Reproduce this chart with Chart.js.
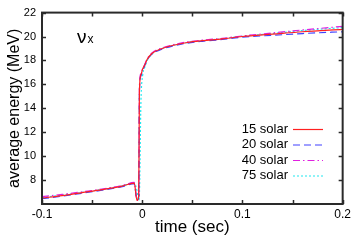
<!DOCTYPE html>
<html><head><meta charset="utf-8">
<script src="https://cdn.jsdelivr.net/npm/chart.js@4/dist/chart.umd.min.js"></script>
<style>html,body{margin:0;padding:0;background:#fff;}canvas{display:block;}</style>
</head><body>
<canvas id="c" width="354" height="240"></canvas>
<script>
const time = [-0.1, -0.08, -0.06, -0.04, -0.02, -0.008, -0.0052, -0.0035, -0.0028, -0.0013, 0.0005, 0.0024, 0.005, 0.01, 0.02, 0.03, 0.045, 0.06, 0.08, 0.1, 0.13, 0.16, 0.2];
const solar15 = [6.5, 6.7, 6.95, 7.2, 7.5, 7.75, 6.3, 6.6, 15.5, 16.8, 17.3, 17.6, 18.1, 18.6, 19.0, 19.25, 19.5, 19.65, 19.8, 20.0, 20.2, 20.4, 20.6];
const solar20 = [6.45, 6.65, 6.9, 7.15, 7.45, 7.7, 6.35, 6.6, 15.3, 16.7, 17.2, 17.55, 18.05, 18.55, 18.95, 19.2, 19.45, 19.6, 19.75, 19.95, 20.1, 20.25, 20.4];
const solar40 = [6.62, 6.8, 7.02, 7.25, 7.55, 7.8, 6.3, 6.7, 15.8, 16.9, 17.35, 17.65, 18.15, 18.65, 19.05, 19.3, 19.55, 19.7, 19.85, 20.05, 20.3, 20.55, 20.85];
const solar75 = [6.55, 6.75, 6.97, 7.22, 7.52, 7.75, 7.1, 6.3, 6.8, 14.5, 16.8, 17.4, 18.0, 18.55, 19.0, 19.25, 19.5, 19.65, 19.82, 20.02, 20.25, 20.5, 20.75];
const seriesLabels = ['15 solar', '20 solar', '40 solar', '75 solar'];
const xTicks = [-0.1, 0, 0.1, 0.2];
const xMinor = [-0.05, 0.05, 0.15];
const yTicks = [8, 10, 12, 14, 16, 18, 20, 22];

const colors = ['#ff2020', '#4040ff', '#e020e0', '#20e8f0'];
const dashes = [[], [7, 4], [7, 3, 1.5, 3], [2, 2]];
const seriesVals = [solar15, solar20, solar40, solar75];

const datasets = seriesVals.map((vals, k) => ({
  label: seriesLabels[k],
  data: time.map((t, i) => ({x: t, y: vals[i]})),
  borderColor: colors[k],
  borderDash: dashes[k],
  borderWidth: 1.2,
  pointRadius: 0,
  fill: false,
  tension: 0,
  cubicInterpolationMode: 'monotone'
}));

const FONT = 'Liberation Sans, Arial, sans-serif';

const framePlugin = {
  id: 'frame',
  afterDatasetsDraw(chart) {
    const {ctx, chartArea: a, scales: {x, y}} = chart;
    ctx.save();
    ctx.strokeStyle = '#2a2a2a';
    ctx.lineWidth = 1.5;
    const tl = 4;
    ctx.beginPath();
    xTicks.concat(xMinor).forEach(v => {
      const px = Math.round(x.getPixelForValue(v)) + 0.5;
      ctx.moveTo(px, a.bottom); ctx.lineTo(px, a.bottom - tl);
      ctx.moveTo(px, a.top); ctx.lineTo(px, a.top + tl);
    });
    yTicks.forEach(v => {
      const py = Math.round(y.getPixelForValue(v)) + 0.5;
      ctx.moveTo(a.left, py); ctx.lineTo(a.left + tl, py);
      ctx.moveTo(a.right, py); ctx.lineTo(a.right - tl, py);
    });
    ctx.stroke();
    ctx.lineWidth = 2;
    ctx.strokeRect(a.left, a.top, a.right - a.left, a.bottom - a.top);
    ctx.font = '13px ' + FONT;
    ctx.textAlign = 'right';
    ctx.textBaseline = 'middle';
    const rows = [129, 144.5, 160, 175.5];
    chart.data.datasets.forEach((ds, k) => {
      const yy = rows[k];
      ctx.fillStyle = '#000';
      ctx.fillText(ds.label, 288, yy);
      ctx.strokeStyle = ds.borderColor;
      ctx.lineWidth = 1.2;
      ctx.setLineDash(ds.borderDash);
      ctx.beginPath();
      ctx.moveTo(293, yy + 0.5); ctx.lineTo(323, yy + 0.5);
      ctx.stroke();
      ctx.setLineDash([]);
    });
    ctx.fillStyle = '#000';
    ctx.textAlign = 'left';
    ctx.textBaseline = 'alphabetic';
    ctx.font = '19px ' + FONT;
    ctx.fillText('ν', 77, 43);
    const w = ctx.measureText('ν').width;
    ctx.font = '12px ' + FONT;
    ctx.fillText('x', 77 + w + 1, 43);
    ctx.restore();
  }
};

new Chart(document.getElementById('c'), {
  type: 'line',
  data: {datasets},
  options: {
    responsive: false,
    animation: false,
    devicePixelRatio: 1,
    layout: {padding: {left: 0, right: 10, top: 5, bottom: 0}},
    plugins: {legend: {display: false}, tooltip: {enabled: false}},
    scales: {
      x: {
        type: 'linear', min: -0.1, max: 0.2,
        afterBuildTicks: s => { s.ticks = xTicks.map(v => ({value: v})); },
        ticks: {
          color: '#000', font: {family: FONT, size: 12}, padding: 3,
          maxRotation: 0, autoSkip: false,
          callback: v => (Math.round(v * 100) / 100).toString()
        },
        grid: {display: false, drawTicks: false},
        border: {display: false},
        title: {display: true, text: 'time (sec)', color: '#000', font: {family: FONT, size: 17}, padding: {top: 0, bottom: 2}},
        afterFit: s => { s.height = 36; }
      },
      y: {
        type: 'linear', min: 6, max: 22,
        afterBuildTicks: s => { s.ticks = yTicks.map(v => ({value: v})); },
        ticks: {
          color: '#000', font: {family: FONT, size: 11}, padding: 6, autoSkip: false,
          callback: v => v.toString()
        },
        grid: {display: false, drawTicks: false},
        border: {display: false},
        title: {display: true, text: 'average energy (MeV)', color: '#000', font: {family: FONT, size: 16}, padding: {top: 5, bottom: 0}},
        afterFit: s => { s.width = 42; }
      }
    }
  },
  plugins: [framePlugin]
});
</script>
</body></html>
